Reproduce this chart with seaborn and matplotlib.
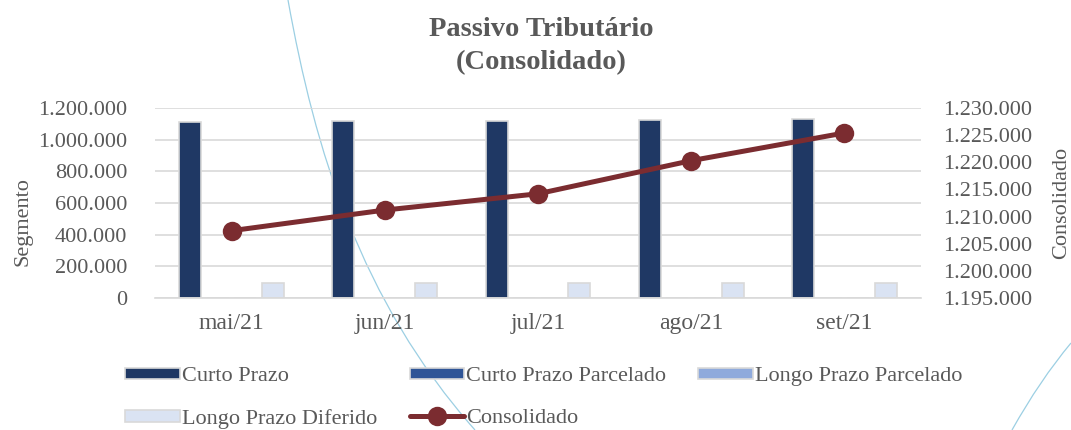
import pandas as pd
import seaborn as sns
import matplotlib.pyplot as plt
from matplotlib.path import Path
from matplotlib.patches import PathPatch
from matplotlib.ticker import FuncFormatter, MultipleLocator, FixedLocator

# Dados
meses = ['mai/21', 'jun/21', 'jul/21', 'ago/21', 'set/21']
series = ['Curto Prazo', 'Curto Prazo Parcelado', 'Longo Prazo Parcelado', 'Longo Prazo Diferido']
curto_prazo = [1112000, 1115700, 1118700, 1124800, 1129900]
curto_prazo_parcelado = [1500, 1500, 1500, 1500, 1500]
longo_prazo_parcelado = [2000, 2000, 2000, 2000, 2000]
longo_prazo_diferido = [92000, 92000, 92000, 92000, 92000]
consolidado = [1207400, 1211200, 1214200, 1220300, 1225400]

cores = ['#1F3864', '#2F5597', '#8FAADC', '#DAE3F3']
COR_LINHA = '#7B2C30'
COR_TEXTO = '#595959'
COR_GRADE = '#D9D9D9'

sns.set_theme(style='white')
plt.rcParams['font.family'] = ['Liberation Serif', 'DejaVu Serif']

df = pd.DataFrame({
    'mes': meses * 4,
    'serie': [s for s in series for _ in meses],
    'valor': curto_prazo + curto_prazo_parcelado + longo_prazo_parcelado + longo_prazo_diferido,
})


def fmt_milhar(v, pos=None):
    return f'{int(round(v)):,}'.replace(',', '.')


fig = plt.figure(figsize=(10.71, 4.30), dpi=100, facecolor='white')
ax = fig.add_axes([155 / 1071, 1 - 298 / 430, (921 - 155) / 1071, (298 - 108) / 430])
ax.patch.set_alpha(0)

sns.barplot(data=df, x='mes', y='valor', hue='serie', hue_order=series, palette=cores,
            saturation=1, width=0.72, gap=0.2, edgecolor=COR_GRADE, linewidth=1.2, ax=ax)
ax.get_legend().remove()

ax.set_ylim(0, 1200000)
ax.set_xlim(-0.5, 4.5)
ax.yaxis.set_major_locator(MultipleLocator(200000))
ax.yaxis.set_major_formatter(FuncFormatter(fmt_milhar))
ax.grid(axis='y', color=COR_GRADE, linewidth=1.2)
ax.set_axisbelow(True)
for s in ['top', 'right', 'left']:
    ax.spines[s].set_visible(False)
ax.spines['bottom'].set_color(COR_GRADE)
ax.spines['bottom'].set_linewidth(1.2)
ax.xaxis.set_minor_locator(FixedLocator([-0.5, 0.5, 1.5, 2.5, 3.5, 4.5]))
ax.tick_params(axis='x', which='major', length=0, pad=11, labelsize=17, labelcolor=COR_TEXTO)
ax.tick_params(axis='x', which='minor', length=6, width=1.2, color=COR_GRADE)
ax.tick_params(axis='y', length=0, pad=20, labelsize=16, labelcolor=COR_TEXTO)
ax.set_xlabel('')
ax.set_ylabel('Segmento', fontsize=16, color=COR_TEXTO)
ax.yaxis.set_label_coords(-0.160, 0.40)

ax2 = ax.twinx()
ax2.patch.set_alpha(0)
sns.lineplot(x=[0, 1, 2, 3, 4], y=consolidado, ax=ax2, color=COR_LINHA, linewidth=3.6,
             marker='o', markersize=14, markeredgewidth=0, label='Consolidado')
ax2.get_legend().remove()
ax2.set_ylim(1195000, 1230000)
ax2.yaxis.set_major_locator(MultipleLocator(5000))
ax2.yaxis.set_major_formatter(FuncFormatter(fmt_milhar))
for s in ['top', 'right', 'left', 'bottom']:
    ax2.spines[s].set_visible(False)
ax2.tick_params(axis='y', length=0, pad=16, labelsize=16, labelcolor=COR_TEXTO)
ax2.set_ylabel('Consolidado', fontsize=16, color=COR_TEXTO)
ax2.yaxis.set_label_coords(1.171, 0.50)

fig.suptitle('Passivo Tributário\n(Consolidado)', x=541 / 1071, y=0.96, fontsize=20.5,
             fontweight='bold', color=COR_TEXTO, linespacing=1.4)

# legenda: ordem por coluna para ficar CP | CPP | LPP / LPD | Consolidado
h1, l1 = ax.get_legend_handles_labels()
h2, l2 = ax2.get_legend_handles_labels()
hs = dict(zip(l1 + l2, h1 + h2))
ordem = ['Curto Prazo', 'Longo Prazo Diferido', 'Curto Prazo Parcelado', 'Consolidado',
         'Longo Prazo Parcelado']
fig.legend([hs[k] for k in ordem], ordem, loc='center', bbox_to_anchor=(544 / 1071, 1 - 398 / 430),
           ncol=3, frameon=False, fontsize=16, labelcolor=COR_TEXTO, handlelength=2.45,
           handleheight=0.45, handletextpad=0.1, columnspacing=1.45, labelspacing=1.0)

# linhas decorativas do fundo do slide
curva = Path([(288 / 1071, 1.0), (315 / 1071, 1 - 150 / 430), (360 / 1071, 1 - 300 / 430),
              (475 / 1071, 0.0)], [Path.MOVETO, Path.CURVE4, Path.CURVE4, Path.CURVE4])
fig.add_artist(PathPatch(curva, transform=fig.transFigure, fill=False, edgecolor='#9CCFE3',
                         linewidth=0.9, zorder=-1))
curva2 = Path([(1.0, 1 - 343 / 430), (1040 / 1071, 1 - 380 / 430), (1012 / 1071, 0.0)],
              [Path.MOVETO, Path.CURVE3, Path.CURVE3])
fig.add_artist(PathPatch(curva2, transform=fig.transFigure, fill=False, edgecolor='#9CCFE3',
                         linewidth=0.9, zorder=-1))

fig.savefig('out.png', dpi=100, facecolor='white')
